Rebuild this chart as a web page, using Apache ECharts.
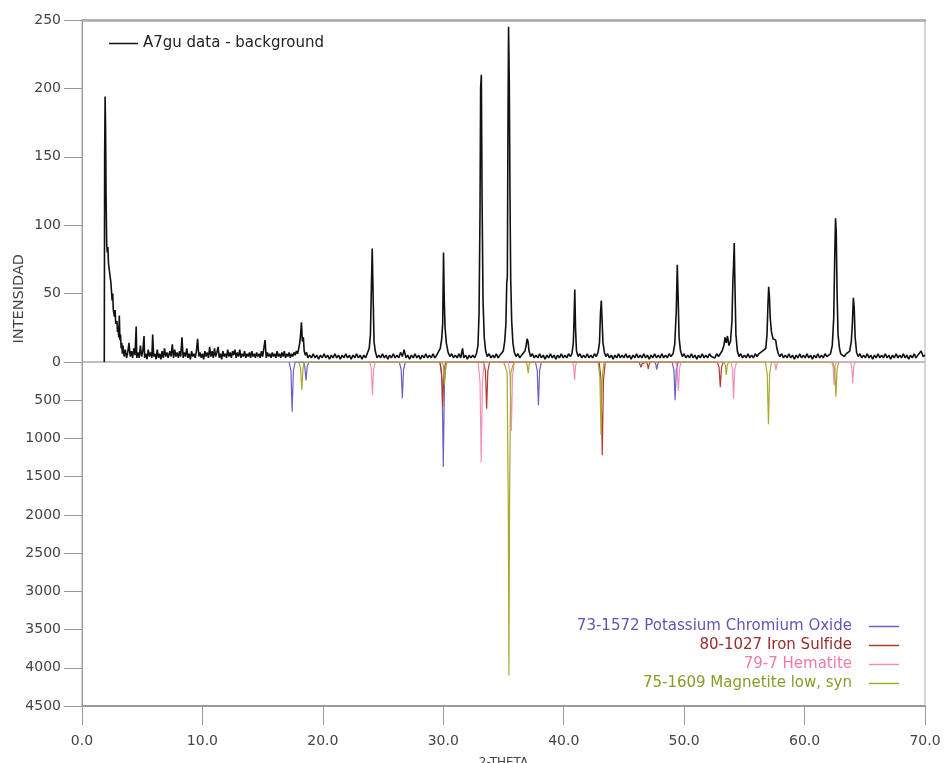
<!DOCTYPE html>
<html lang="es" style="height: 100%">

<head>
   <meta charset="utf-8">
   <style>
      html,
      body {
         margin: 0;
         padding: 0;
         width: 100%;
         height: 100%;
         overflow: hidden;
         background: #fff;
      }
   </style>
</head>

<body>
   <div id="container" style="height: 100%;width: 100%;"></div>

   <script type="text/javascript" src="https://cdn.jsdelivr.net/npm/echarts@6/dist/echarts.min.js"></script>
   <script type="text/javascript">

      // patrón medido (datos - fondo), [2theta, intensidad]
      let sampleData = [
         [1.85, 0], [1.88, 150], [1.92, 194], [1.96, 170], [2.0, 120], [2.05, 86], [2.1, 80], [2.15, 84], [2.2, 72], [2.3, 65],
         [2.4, 58], [2.5, 45], [2.55, 50], [2.6, 38], [2.7, 33], [2.75, 38], [2.8, 28], [2.9, 30], [2.95, 22], [3.0, 26],
         [3.05, 18], [3.1, 34], [3.15, 16], [3.2, 20], [3.25, 10], [3.3, 14], [3.35, 6], [3.4, 12], [3.5, 4], [3.6, 9],
         [3.7, 3], [3.8, 7], [3.9, 14], [4.0, 4], [4.1, 8], [4.2, 3], [4.3, 10], [4.4, 5], [4.5, 26], [4.55, 3],
         [4.65, 7], [4.75, 3], [4.85, 12], [4.95, 4], [5.05, 8], [5.15, 19], [5.2, 3], [5.3, 6], [5.4, 2], [5.5, 9],
         [5.6, 4], [5.7, 7], [5.8, 3], [5.87, 20], [5.95, 4], [6.05, 6], [6.15, 2], [6.25, 9], [6.35, 3], [6.45, 6],
         [6.55, 2], [6.65, 8], [6.75, 3], [6.85, 10], [6.95, 4], [7.05, 7], [7.15, 3], [7.3, 8], [7.4, 4], [7.5, 13],
         [7.6, 3], [7.7, 9], [7.8, 4], [7.9, 7], [8.0, 3], [8.1, 8], [8.2, 4], [8.3, 18], [8.4, 3], [8.5, 7],
         [8.6, 4], [8.7, 10], [8.8, 3], [8.9, 6], [9.0, 2], [9.1, 8], [9.2, 4], [9.3, 6], [9.4, 3], [9.5, 8],
         [9.6, 17], [9.7, 4], [9.8, 7], [9.9, 3], [10.0, 6], [10.1, 2], [10.2, 8], [10.3, 4], [10.4, 7], [10.5, 3],
         [10.6, 11], [10.7, 4], [10.8, 8], [10.9, 3], [11.0, 10], [11.1, 4], [11.2, 7], [11.3, 11], [11.4, 3], [11.5, 6],
         [11.6, 2], [11.7, 8], [11.8, 4], [11.9, 6], [12.0, 3], [12.1, 9], [12.2, 4], [12.3, 7], [12.4, 3], [12.5, 8],
         [12.6, 5], [12.7, 9], [12.8, 3], [12.9, 7], [13.0, 4], [13.1, 9], [13.2, 3], [13.3, 6], [13.4, 4], [13.5, 8],
         [13.6, 3], [13.7, 6], [13.8, 4], [13.9, 7], [14.0, 3], [14.1, 8], [14.2, 4], [14.3, 6], [14.4, 3], [14.5, 7],
         [14.6, 4], [14.7, 6], [14.8, 3], [14.9, 8], [15.0, 4], [15.1, 5], [15.2, 16], [15.3, 3], [15.4, 7], [15.5, 4],
         [15.6, 6], [15.7, 3], [15.8, 7], [15.9, 4], [16.0, 6], [16.1, 3], [16.2, 8], [16.3, 4], [16.4, 6], [16.5, 3],
         [16.6, 7], [16.7, 4], [16.8, 8], [16.9, 3], [17.0, 6], [17.1, 4], [17.2, 7], [17.3, 3], [17.4, 6], [17.5, 4],
         [17.6, 7], [17.7, 5], [17.8, 8], [17.9, 6], [18.0, 10], [18.08, 14], [18.15, 20], [18.22, 29], [18.3, 15], [18.38, 18],
         [18.45, 8], [18.55, 5], [18.65, 7], [18.75, 3], [18.9, 5], [19.05, 3], [19.2, 6], [19.35, 3], [19.5, 5], [19.65, 2],
         [19.8, 5], [19.95, 3], [20.1, 6], [20.25, 3], [20.4, 5], [20.55, 2], [20.7, 5], [20.85, 3], [21.0, 6], [21.15, 3],
         [21.3, 5], [21.45, 2], [21.6, 5], [21.75, 3], [21.9, 6], [22.05, 3], [22.2, 5], [22.35, 2], [22.5, 5], [22.65, 3],
         [22.8, 6], [22.95, 3], [23.1, 5], [23.25, 2], [23.4, 5], [23.55, 3],
         [23.7, 4], [23.85, 10], [23.95, 20], [24.03, 55], [24.1, 83], [24.17, 50], [24.25, 15], [24.35, 8], [24.5, 3],
         [24.65, 5], [24.8, 3], [24.95, 6], [25.1, 3], [25.25, 5], [25.4, 2], [25.55, 5], [25.7, 3], [25.85, 6], [26.0, 3],
         [26.15, 5], [26.3, 3], [26.45, 7], [26.6, 4], [26.75, 9], [26.9, 3], [27.05, 5], [27.2, 2], [27.35, 5], [27.5, 3],
         [27.65, 6], [27.8, 3], [27.95, 5], [28.1, 2], [28.25, 5], [28.4, 3], [28.55, 6], [28.7, 3], [28.85, 5], [29.0, 3],
         [29.15, 6], [29.3, 3], [29.45, 5],
         [29.6, 5], [29.75, 10], [29.87, 17], [29.95, 28], [30.02, 80], [30.08, 45], [30.15, 25], [30.25, 14], [30.4, 7], [30.55, 4],
         [30.7, 6], [30.85, 3], [31.0, 5], [31.15, 3], [31.3, 6], [31.45, 3], [31.6, 10], [31.7, 3], [31.85, 5], [32.0, 2],
         [32.15, 5], [32.3, 3], [32.45, 5], [32.6, 3],
         [32.75, 6], [32.88, 12], [32.97, 35], [33.05, 110], [33.1, 200], [33.16, 210], [33.22, 120], [33.3, 45], [33.4, 18], [33.52, 8],
         [33.65, 4], [33.8, 6], [33.95, 3], [34.1, 5], [34.25, 3], [34.4, 6], [34.55, 3], [34.7, 5], [34.85, 4],
         [34.98, 8], [35.1, 15], [35.2, 28], [35.27, 58], [35.32, 62], [35.37, 170], [35.42, 245], [35.48, 205], [35.54, 120], [35.6, 60],
         [35.68, 30], [35.78, 14], [35.9, 7], [36.05, 4], [36.2, 6], [36.35, 3], [36.5, 5], [36.65, 4],
         [36.78, 8], [36.88, 12], [36.96, 17], [37.04, 15], [37.12, 8], [37.25, 4],
         [37.4, 6], [37.55, 3], [37.7, 5], [37.85, 3], [38.0, 6], [38.15, 3], [38.3, 5], [38.45, 2], [38.6, 5], [38.75, 3],
         [38.9, 6], [39.05, 3], [39.2, 5], [39.35, 2], [39.5, 5], [39.65, 3], [39.8, 6], [39.95, 3], [40.1, 5], [40.25, 3],
         [40.4, 6], [40.55, 4],
         [40.68, 6], [40.8, 14], [40.86, 32], [40.92, 53], [40.98, 25], [41.06, 8], [41.2, 4],
         [41.35, 6], [41.5, 3], [41.65, 5], [41.8, 3], [41.95, 6], [42.1, 3], [42.25, 5], [42.4, 3], [42.55, 6], [42.7, 4],
         [42.85, 7], [42.97, 14], [43.05, 35], [43.12, 45], [43.18, 32], [43.26, 14], [43.38, 7], [43.5, 4],
         [43.65, 6], [43.8, 3], [43.95, 5], [44.1, 2], [44.25, 5], [44.4, 3], [44.55, 6], [44.7, 3], [44.85, 5], [45.0, 3],
         [45.15, 6], [45.3, 3], [45.45, 5], [45.6, 2], [45.75, 5], [45.9, 3], [46.05, 6], [46.2, 3], [46.35, 5], [46.5, 3],
         [46.65, 6], [46.8, 3], [46.95, 5], [47.1, 2], [47.25, 5], [47.4, 3], [47.55, 6], [47.7, 3], [47.85, 5], [48.0, 3],
         [48.15, 6], [48.3, 3], [48.45, 5], [48.6, 3], [48.75, 6], [48.9, 4],
         [49.08, 6], [49.22, 13], [49.35, 38], [49.43, 71], [49.5, 48], [49.58, 18], [49.7, 8], [49.85, 4],
         [50.0, 6], [50.15, 3], [50.3, 5], [50.45, 3], [50.6, 6], [50.75, 3], [50.9, 5], [51.05, 2], [51.2, 5], [51.35, 3],
         [51.5, 6], [51.65, 3], [51.8, 5], [51.95, 3], [52.1, 6], [52.25, 4], [52.4, 5], [52.55, 3], [52.7, 6], [52.85, 4],
         [53.0, 6], [53.15, 8], [53.3, 12], [53.4, 18], [53.5, 14], [53.6, 19], [53.72, 12], [53.85, 15], [53.97, 30], [54.05, 60],
         [54.1, 70], [54.16, 87], [54.22, 55], [54.3, 20], [54.42, 8], [54.55, 4],
         [54.7, 6], [54.85, 3], [55.0, 5], [55.15, 3], [55.3, 6], [55.45, 3], [55.6, 5], [55.75, 3], [55.9, 6], [56.05, 4],
         [56.2, 6], [56.35, 5], [56.5, 8], [56.65, 7],
         [56.78, 10], [56.88, 20], [56.96, 42], [57.02, 55], [57.08, 48], [57.15, 32], [57.25, 22], [57.38, 17], [57.5, 18], [57.6, 16],
         [57.7, 10], [57.82, 6], [57.95, 4],
         [58.1, 6], [58.25, 3], [58.4, 5], [58.55, 3], [58.7, 6], [58.85, 3], [59.0, 5], [59.15, 2], [59.3, 5], [59.45, 3],
         [59.6, 6], [59.75, 3], [59.9, 5], [60.05, 3], [60.2, 6], [60.35, 3], [60.5, 5], [60.65, 2], [60.8, 5], [60.95, 3],
         [61.1, 6], [61.25, 3], [61.4, 5], [61.55, 3], [61.7, 6], [61.85, 4], [62.0, 5],
         [62.15, 6], [62.3, 12], [62.42, 32], [62.5, 75], [62.57, 105], [62.63, 95], [62.7, 50], [62.78, 20], [62.9, 10], [63.0, 6],
         [63.15, 5], [63.3, 4], [63.45, 6], [63.6, 5],
         [63.75, 8], [63.88, 15], [63.97, 28], [64.05, 47], [64.12, 40], [64.2, 18], [64.32, 7], [64.45, 4],
         [64.6, 6], [64.75, 3], [64.9, 5], [65.05, 3], [65.2, 6], [65.35, 3], [65.5, 5], [65.65, 2], [65.8, 5], [65.95, 3],
         [66.1, 6], [66.25, 3], [66.4, 5], [66.55, 3], [66.7, 6], [66.85, 3], [67.0, 5], [67.15, 2], [67.3, 5], [67.45, 3],
         [67.6, 6], [67.75, 3], [67.9, 5], [68.05, 3], [68.2, 6], [68.35, 3], [68.5, 5], [68.65, 2], [68.8, 5], [68.95, 3],
         [69.1, 6], [69.25, 3], [69.4, 5], [69.55, 4], [69.68, 8], [69.75, 7], [69.85, 4], [70.0, 5]
      ]

      // fichas de referencia (hacia abajo), [2theta, intensidad]
      let pcoData = [
         [17.2, 0], [17.35, 120], [17.45, 650], [17.55, 120], [17.7, 0],
         [18.4, 0], [18.5, 60], [18.6, 240], [18.7, 60], [18.85, 0],
         [26.35, 0], [26.5, 100], [26.6, 475], [26.7, 100], [26.85, 0],
         [29.75, 0], [29.9, 250], [30.0, 1375], [30.1, 250], [30.25, 0],
         [37.65, 0], [37.8, 110], [37.9, 565], [38.0, 110], [38.15, 0],
         [47.55, 0], [47.65, 30], [47.72, 100], [47.8, 30], [47.9, 0],
         [49.0, 0], [49.15, 100], [49.25, 500], [49.35, 100], [49.5, 0]
      ]
      let fesData = [
         [29.7, 0], [29.85, 120], [29.95, 590], [30.05, 120], [30.2, 0],
         [33.35, 0], [33.5, 120], [33.6, 610], [33.7, 120], [33.85, 0],
         [42.95, 0], [43.1, 240], [43.2, 1220], [43.3, 240], [43.45, 0],
         [46.25, 0], [46.35, 25], [46.42, 70], [46.5, 25], [46.6, 0],
         [46.85, 0], [46.95, 30], [47.02, 90], [47.1, 30], [47.2, 0],
         [52.75, 0], [52.9, 70], [53.0, 330], [53.1, 70], [53.25, 0]
      ]
      let hemData = [
         [23.9, 0], [24.02, 90], [24.12, 435], [24.22, 90], [24.35, 0],
         [32.9, 0], [33.05, 260], [33.15, 1310], [33.25, 260], [33.4, 0],
         [35.4, 0], [35.55, 180], [35.65, 900], [35.75, 180], [35.9, 0],
         [40.7, 0], [40.82, 50], [40.9, 235], [40.98, 50], [41.1, 0],
         [49.3, 0], [49.42, 80], [49.52, 380], [49.62, 80], [49.75, 0],
         [53.9, 0], [54.02, 100], [54.1, 480], [54.2, 100], [54.35, 0],
         [57.45, 0], [57.55, 30], [57.62, 110], [57.7, 30], [57.8, 0],
         [62.25, 0], [62.37, 60], [62.45, 300], [62.53, 60], [62.65, 0],
         [63.8, 0], [63.92, 60], [64.0, 280], [64.08, 60], [64.2, 0]
      ]
      let magData = [
         [18.0, 0], [18.15, 80], [18.25, 370], [18.35, 80], [18.5, 0],
         [29.9, 0], [30.02, 60], [30.1, 300], [30.18, 60], [30.3, 0],
         [35.0, 0], [35.15, 60], [35.3, 150], [35.4, 1900], [35.45, 4100], [35.5, 1900], [35.6, 150], [35.75, 60], [35.9, 0],
         [36.85, 0], [36.97, 40], [37.05, 145], [37.13, 40], [37.25, 0],
         [42.85, 0], [43.0, 190], [43.1, 950], [43.2, 190], [43.35, 0],
         [53.3, 0], [53.42, 40], [53.5, 170], [53.58, 40], [53.7, 0],
         [56.75, 0], [56.9, 160], [57.0, 815], [57.1, 160], [57.25, 0],
         [62.35, 0], [62.5, 90], [62.6, 455], [62.7, 90], [62.85, 0]
      ]

      let xTicks = [0, 10, 20, 30, 40, 50, 60, 70]
      let topTicks = [0, 50, 100, 150, 200, 250]
      let bottomTicks = [0, 500, 1000, 1500, 2000, 2500, 3000, 3500, 4000, 4500]

      let phases = [
         { name: "73-1572 Potassium Chromium Oxide", color: "#6f5fc0", text: "#6554b5", data: pcoData },
         { name: "80-1027 Iron Sulfide", color: "#b23a2e", text: "#962c2c", data: fesData },
         { name: "79-7 Hematite", color: "#f490b8", text: "#f07aaa", data: hemData },
         { name: "75-1609 Magnetite low, syn", color: "#a7a82c", text: "#8a9a26", data: magData },
      ]

      var dom = document.getElementById('container');
      var myChart = echarts.init(dom, null, {
         renderer: 'canvas',
         useDirtyRect: false
      });

      var axisColor = "#999";
      var fontName = "DejaVu Sans, Verdana, sans-serif";
      var labelStyle = {
         color: "#444",
         fontSize: 14,
         fontFamily: fontName,
      };

      var option = {
         animation: false,
         backgroundColor: "#fff",
         grid: [
            { left: 82, right: 21, top: 20, height: 342, show: true, borderColor: "#aaa", borderWidth: 1, outerBoundsMode: "none" },
            { left: 82, right: 21, top: 362, height: 344, show: true, borderColor: "#aaa", borderWidth: 1, outerBoundsMode: "none" },
         ],
         xAxis: [
            {
               type: "value", gridIndex: 0, position: "top",
               min: xTicks[0], max: xTicks[xTicks.length - 1], interval: 10,
               axisLine: { show: true, onZero: false, lineStyle: { color: "#aaa", width: 2.5 } },
               axisTick: { show: false },
               axisLabel: { show: false }, splitLine: { show: false },
            },
            {
               type: "value", gridIndex: 1, position: "bottom",
               min: xTicks[0], max: xTicks[xTicks.length - 1], interval: 10,
               name: "2-THETA", nameLocation: "middle", nameGap: 51,
               nameTextStyle: { color: "#444", fontSize: 12, fontFamily: fontName },
               axisLine: { onZero: false, lineStyle: { color: axisColor, width: 2 } },
               axisTick: { length: 19, lineStyle: { color: axisColor } },
               axisLabel: Object.assign({ margin: 28, formatter: (v) => v.toFixed(1) }, labelStyle),
               splitLine: { show: false },
            },
         ],
         yAxis: [
            {
               type: "value", gridIndex: 0,
               min: topTicks[0], max: topTicks[topTicks.length - 1], interval: 50,
               axisLine: { show: true, onZero: false, lineStyle: { color: axisColor } },
               axisTick: { length: 18, lineStyle: { color: axisColor } },
               axisLabel: Object.assign({ margin: 21, formatter: (v) => String(v) }, labelStyle),
               splitLine: { show: false },
            },
            {
               type: "value", gridIndex: 1, inverse: true,
               min: bottomTicks[0], max: bottomTicks[bottomTicks.length - 1], interval: 500,
               axisLine: { show: true, onZero: false, lineStyle: { color: axisColor } },
               axisTick: { length: 18, lineStyle: { color: axisColor } },
               axisLabel: Object.assign({ margin: 21, showMinLabel: false, formatter: (v) => String(v) }, labelStyle),
               splitLine: { show: false },
            },
         ],
         legend: [
            {
               left: 104, top: 31,
               icon: "rect",
               itemWidth: 29, itemHeight: 1.5, itemGap: 4,
               textStyle: { color: "#222", fontSize: 15, fontFamily: fontName },
               data: ["A7gu data - background"],
            },
            {
               orient: "vertical", align: "right",
               right: 42, top: 614,
               icon: "rect",
               itemWidth: 30, itemHeight: 1.5, itemGap: 4,
               textStyle: { fontSize: 15, fontFamily: fontName, padding: [0, 12, 0, 0] },
               data: phases.map((p) => ({ name: p.name, textStyle: { color: p.text } })),
            },
         ],
         graphic: [
            {
               type: "text", left: 12, top: 254, rotation: Math.PI / 2,
               style: { text: "INTENSIDAD", fill: "#444", fontSize: 14.5, fontFamily: fontName },
            },
         ],
         series: phases.map((p) => ({
            name: p.name,
            type: "line",
            xAxisIndex: 1, yAxisIndex: 1,
            symbol: "none",
            color: p.color,
            lineStyle: { width: 1.2, color: p.color },
            data: p.data,
            z: 2,
         })).concat([
            {
               name: "A7gu data - background",
               type: "line",
               xAxisIndex: 0, yAxisIndex: 0,
               symbol: "none",
               color: "#111",
               lineStyle: { width: 1.6, color: "#111" },
               data: sampleData,
               z: 3,
            },
         ]),
      };

      if (option && typeof option === 'object') {
         myChart.setOption(option);
      }

      window.addEventListener('resize', myChart.resize);

   </script>
</body>

</html>
